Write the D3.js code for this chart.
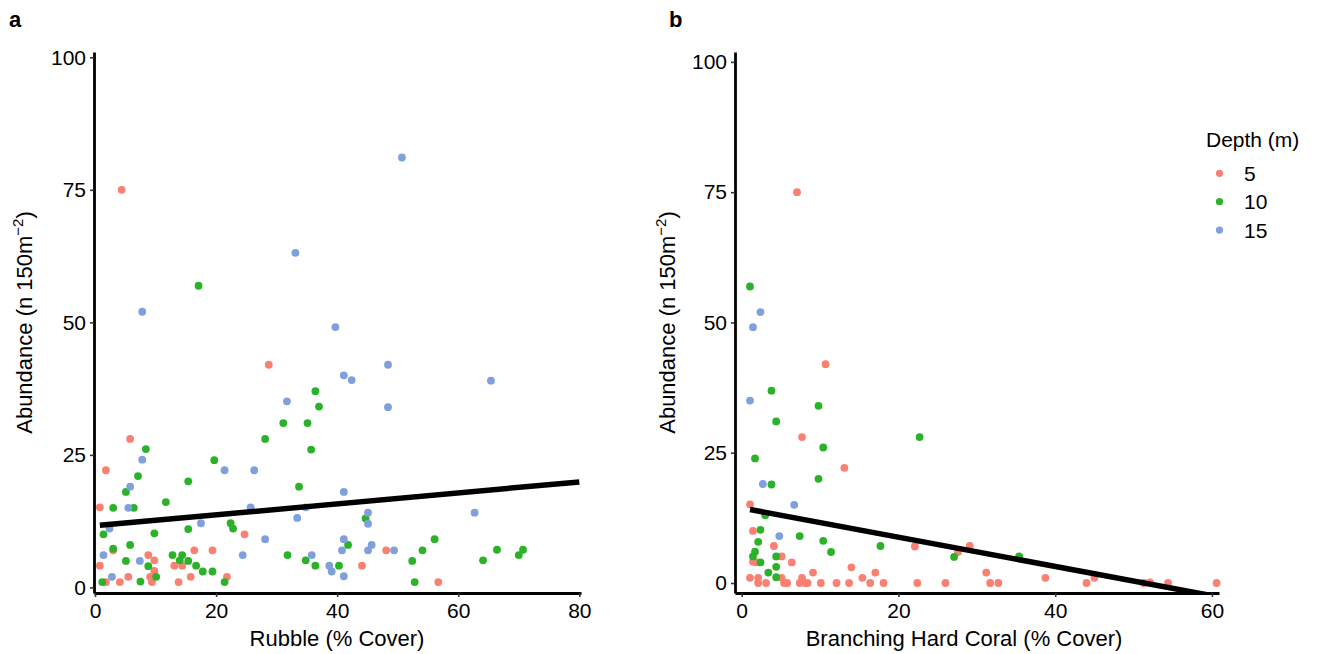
<!DOCTYPE html>
<html>
<head>
<meta charset="utf-8">
<script src="https://cdn.jsdelivr.net/npm/d3@7"></script>
<style>
  body { margin: 0; background: #fff; }
  text { font-family: "Liberation Sans", Arial, sans-serif; }
</style>
</head>
<body>
<div id="chart"></div>
<script>
// depth groups
var depths = ["5", "10", "15"];
var depthColors = ["#FA8072", "#2BB229", "#7FA0DB"];

// panel a : rubble cover vs abundance, [x, y]
var rubble5 = [[5.8,28],[1.8,22.1],[0.8,15.1],[3.0,7.0],[8.8,6.1],[9.8,5.1],[9.8,3.1],[9.1,2.0],[9.4,1.0],[0.8,4.1],
  [1.8,1.0],[4.1,1.0],[5.5,2.0],[13.1,4.1],[14.4,4.1],[16.4,7.0],[15.8,2.0],[13.8,1.0],[19.4,7.0],[21.8,2.0],
  [24.7,10.0],[4.4,75],[28.7,42],[48.1,7.0],[44.1,4.1],[56.7,1.0]];
var rubble10 = [[8.4,26.1],[7.1,21.0],[5.1,18.0],[3.0,15.0],[6.4,15.0],[11.7,16.1],[19.7,24.0],[28.1,28.0],[31.1,31.0],[35.1,31.0],
  [37.0,34.1],[35.7,26.0],[33.7,19.0],[15.4,20.0],[1.4,10.0],[9.8,10.2],[15.4,11.0],[22.4,12.1],[22.8,11.1],[5.8,8.0],
  [3.0,7.3],[5.1,5.0],[8.8,4.0],[10.1,2.0],[1.2,1.0],[7.5,1.1],[12.8,6.1],[14.4,6.1],[14.0,5.1],[15.4,5.0],
  [16.7,4.1],[17.8,3.0],[19.4,3.0],[21.4,1.0],[31.8,6.1],[34.8,5.1],[36.4,4.1],[40.3,4.1],[17.1,56.9],[36.4,37.0],
  [44.7,13.0],[41.8,8.0],[56.1,9.1],[54.1,7.0],[52.4,5.0],[52.8,1.0],[64.1,5.1],[66.4,7.1],[70.0,6.1],[70.7,7.1]];
var rubble15 = [[7.8,24.1],[5.8,19.0],[5.5,15.0],[21.4,22.1],[26.3,22.1],[31.7,35.1],[25.7,15.1],[33.4,13.1],[34.8,15.1],[2.4,11.1],
  [17.5,12.1],[28.1,9.1],[1.4,6.1],[7.4,5.0],[2.8,2.0],[24.4,6.1],[35.8,6.1],[38.7,4.1],[39.1,3.0],[48.4,34.0],
  [41.1,18.0],[45.1,14.1],[45.1,12.0],[62.7,14.1],[41.1,9.1],[40.8,7.0],[45.7,8.0],[45.1,7.0],[49.4,7.0],[41.1,2.1],
  [50.7,81.1],[33.1,63.1],[7.8,52.0],[39.7,49.1],[48.4,42.0],[41.1,40.0],[42.4,39.1],[65.4,39.0]];
var rubbleFit = [[0.8, 11.7], [80, 19.9]];

// panel b : branching hard coral cover vs abundance
var coral5 = [[7.06,75],[10.7,42],[7.7,28],[13.1,22.1],[1.06,15.1],[1.44,10],[4.1,7.1],[22.1,7],[29.1,7.1],[27.6,5.95],
  [1.44,4.1],[1.8,4.0],[5.1,5.1],[6.4,3.95],[9.1,2],[14,3],[17.05,2],[1.06,1],[2.1,1],[2.1,0],
  [3.1,0],[5.1,1],[5.4,0],[5.8,0],[7.4,0],[7.7,1],[8.1,0],[8.4,0],[10.1,0],[12.1,0],
  [13.7,0],[15.4,1],[16.4,0],[18.1,0],[22.4,0],[26,0],[31.2,2],[31.7,0],[32.75,0],[38.75,1],
  [44,0],[45,1],[51.3,0],[52.1,0.1],[54.4,0],[60.6,0]];
var coral10 = [[1.06,56.9],[3.8,36.9],[9.8,34.0],[4.4,31.0],[22.7,28.0],[10.4,26.0],[1.7,23.9],[9.8,20.0],[3.8,18.9],[3.0,13.0],
  [2.4,10.2],[7.4,9.0],[10.4,8.1],[2.1,7.9],[11.4,5.95],[17.7,7.1],[27.1,5.0],[1.7,6.0],[1.44,5.1],[2.4,3.95],
  [4.4,5.1],[4.4,3.1],[3.4,2.0],[4.4,1.1],[35.4,5.1]];
var coral15 = [[2.4,52.0],[1.44,49.1],[1.06,35.0],[2.7,19.0],[6.7,15.0],[4.8,9.0]];
var coralFit = [[1.06, 14.1], [60.6, -2.6]];

var xTicksA = [0, 20, 40, 60, 80];
var xTicksB = [0, 20, 40, 60];
var yTicks = [0, 25, 50, 75, 100];

var width = 1317, height = 654;
var panelTop = 52, panelBottom = 593;

var svg = d3.select("#chart").append("svg")
    .attr("width", width)
    .attr("height", height)

var panels = [
    {tag: "a", sets: [rubble5, rubble10, rubble15], fit: rubbleFit, xticks: xTicksA,
     xdom: [-0.17, 80.28], xr: [94, 581], ydom: [-1.06, 101.0], xtitle: "Rubble (% Cover)",
     tagX: 9, ytitleX: 32, xtitleX: 337},
    {tag: "b", sets: [coral5, coral10, coral15], fit: coralFit, xticks: xTicksB,
     xdom: [-0.855, 60.9], xr: [735, 1219], ydom: [-1.92, 101.9], xtitle: "Branching Hard Coral (% Cover)",
     tagX: 669, ytitleX: 675, xtitleX: 964}
];

panels.forEach(function(p, pi){
    var x = d3.scaleLinear().domain(p.xdom).range(p.xr);
    var y = d3.scaleLinear().domain(p.ydom).range([panelBottom, panelTop]);

    var g = svg.append("g")

    g.append("clipPath").attr("id", "clip" + pi)
        .append("rect")
        .attr("x", p.xr[0]).attr("y", panelTop)
        .attr("width", p.xr[1] - p.xr[0]).attr("height", panelBottom - panelTop)

    // points
    p.sets.forEach(function(set, i){
        g.selectAll(".pt" + i)
            .data(set)
            .enter()
            .append("circle")
            .attr("class", "pt" + i)
            .attr("cx", function(d){ return x(d[0]) })
            .attr("cy", function(d){ return y(d[1]) })
            .attr("r", 3.9)
            .attr("fill", depthColors[i])
    })

    // fitted line
    g.append("path")
        .datum(p.fit)
        .attr("clip-path", "url(#clip" + pi + ")")
        .attr("d", d3.line().x(function(d){ return x(d[0]) }).y(function(d){ return y(d[1]) }))
        .attr("stroke", "#000")
        .attr("stroke-width", 5.5)
        .attr("fill", "none")

    // axes
    var xAxis = g.append("g")
        .attr("transform", "translate(0," + panelBottom + ")")
        .call(d3.axisBottom(x).tickValues(p.xticks).tickSize(4).tickSizeOuter(0).tickPadding(6))
    var yAxis = g.append("g")
        .attr("transform", "translate(" + p.xr[0] + ",0)")
        .call(d3.axisLeft(y).tickValues(yTicks).tickSize(4).tickSizeOuter(0).tickPadding(4))

    ;[xAxis, yAxis].forEach(function(a){
        a.select(".domain").attr("stroke", "#000").attr("stroke-width", 2.8)
        a.selectAll(".tick line").attr("stroke", "#333").attr("stroke-width", 1.6)
        a.selectAll(".tick text").attr("fill", "#000").style("font-size", "21px")
            .style("font-family", "Liberation Sans, Arial, sans-serif")
    })

    // titles
    g.append("text")
        .attr("x", p.xtitleX).attr("y", 646)
        .attr("text-anchor", "middle")
        .style("font-size", "22px")
        .text(p.xtitle)

    var yt = g.append("text")
        .attr("transform", "translate(" + p.ytitleX + "," + ((panelTop + panelBottom) / 2) + ") rotate(-90)")
        .attr("text-anchor", "middle")
        .style("font-size", "22px")
    yt.append("tspan").text("Abundance (n 150m")
    yt.append("tspan").attr("dy", -9).style("font-size", "15px").text("\u22122")
    yt.append("tspan").attr("dy", 9).text(")")

    g.append("text")
        .attr("x", p.tagX).attr("y", 27)
        .style("font-size", "22px")
        .style("font-weight", "bold")
        .text(p.tag)
})

// legend
var legend = svg.append("g")
legend.append("text")
    .attr("x", 1206).attr("y", 147)
    .style("font-size", "21px")
    .text("Depth (m)")

legend.selectAll(".key")
    .data(depths)
    .enter()
    .append("circle")
    .attr("cx", 1219.5)
    .attr("cy", function(d, i){ return 173.3 + i * 28.4 })
    .attr("r", 3.6)
    .attr("fill", function(d, i){ return depthColors[i] })

legend.selectAll(".keytext")
    .data(depths)
    .enter()
    .append("text")
    .attr("x", 1244)
    .attr("y", function(d, i){ return 173.3 + i * 28.4 + 7.5 })
    .style("font-size", "21px")
    .text(function(d){ return d })
</script>
</body>
</html>
